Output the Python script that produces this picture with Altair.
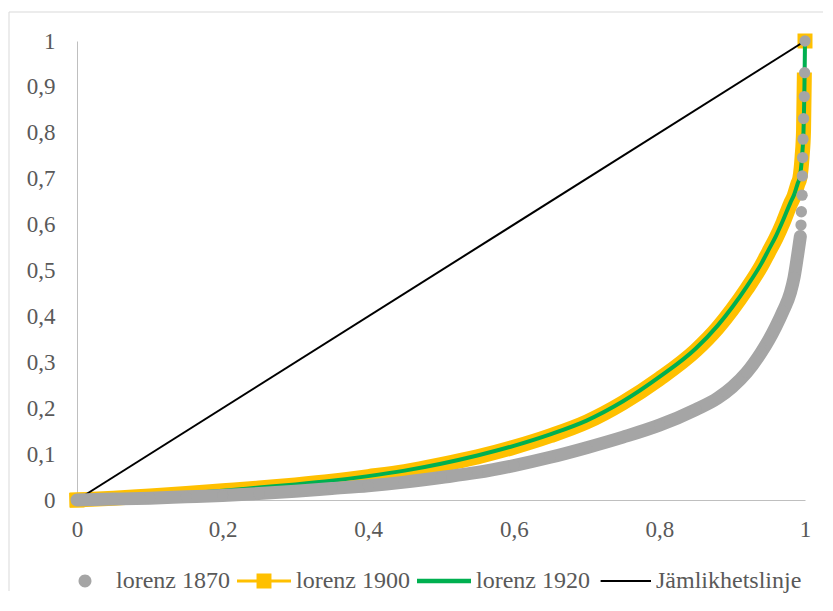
import altair as alt
import pandas as pd

# ---- data ----
series_names = ["lorenz 1870", "lorenz 1900", "lorenz 1920", "Jämlikhetslinje"]
series_colors = ["#A5A5A5", "#FFC000", "#00B050", "#000000"]

x_1870 = [0, 0.05, 0.1, 0.15, 0.2, 0.25, 0.3, 0.35, 0.4, 0.45, 0.5, 0.55, 0.6, 0.65,
          0.7, 0.75, 0.8, 0.85, 0.88, 0.9, 0.92, 0.94, 0.95, 0.96, 0.97, 0.98, 0.985,
          0.99, 0.9936, 0.9945, 0.995, 0.996, 0.9963, 0.9967, 0.9973, 0.998, 0.999,
          0.9995, 1.0]
y_1870 = [0, 0.002, 0.004, 0.007, 0.01, 0.014, 0.019, 0.025, 0.031, 0.039, 0.049, 0.06,
          0.075, 0.093, 0.114, 0.137, 0.163, 0.197, 0.222, 0.246, 0.278, 0.322, 0.348, 0.378,
          0.412, 0.452, 0.485, 0.535, 0.574, 0.599, 0.628, 0.664, 0.706, 0.746, 0.786,
          0.831, 0.879, 0.931, 1.0]

x_1900 = [0, 0.05, 0.1, 0.15, 0.2, 0.25, 0.3, 0.35, 0.4, 0.45, 0.5, 0.55, 0.6, 0.65,
          0.7, 0.75, 0.8, 0.85, 0.88, 0.9, 0.92, 0.94, 0.95, 0.96, 0.97, 0.98, 0.985,
          0.99, 0.993, 0.996, 0.998, 0.999, 1.0]
y_1900 = [0, 0.004, 0.009, 0.014, 0.02, 0.026, 0.033, 0.041, 0.051, 0.062, 0.077, 0.094,
          0.115, 0.14, 0.17, 0.212, 0.264, 0.326, 0.375, 0.415, 0.46, 0.51, 0.54, 0.57,
          0.605, 0.645, 0.662, 0.688, 0.702, 0.748, 0.805, 0.915, 1.0]

x_1920 = [0, 0.05, 0.1, 0.15, 0.2, 0.25, 0.3, 0.35, 0.4, 0.45, 0.5, 0.55, 0.6, 0.65,
          0.7, 0.75, 0.8, 0.85, 0.88, 0.9, 0.92, 0.94, 0.95, 0.96, 0.97, 0.98, 0.985,
          0.99, 0.993, 0.996, 0.998, 0.9995, 1.0]
y_1920 = [0, 0.004, 0.009, 0.014, 0.02, 0.027, 0.034, 0.042, 0.052, 0.064, 0.079, 0.097,
          0.118, 0.143, 0.173, 0.215, 0.268, 0.33, 0.38, 0.42, 0.465, 0.515, 0.545, 0.575,
          0.61, 0.648, 0.665, 0.69, 0.704, 0.75, 0.806, 0.93, 1.0]

x_eq = [0, 1]
y_eq = [0, 1]

x_ticks = [0, 0.2, 0.4, 0.6, 0.8, 1]
y_ticks = [0, 0.1, 0.2, 0.3, 0.4, 0.5, 0.6, 0.7, 0.8, 0.9, 1]

# legend symbol paths (unit = symbol half-size)
legend_shapes = [
    "M1.39,0 A0.72,0.72 0 1,0 2.83,0 A0.72,0.72 0 1,0 1.39,0 Z",
    "M-1,-0.17 L1.17,-0.17 L1.17,-0.83 L2.83,-0.83 L2.83,-0.17 L5,-0.17 L5,0.17 "
    "L2.83,0.17 L2.83,0.83 L1.17,0.83 L1.17,0.17 L-1,0.17 Z",
    "M-1,-0.25 L5,-0.25 L5,0.25 L-1,0.25 Z",
    "M-0.6,-0.11 L5,-0.11 L5,0.11 L-0.6,0.11 Z",
]

FONT = "Liberation Serif, Times New Roman, DejaVu Serif, serif"
TXT = "#595959"

df70 = pd.DataFrame({"x": x_1870, "y": y_1870})
df00 = pd.DataFrame({"x": x_1900, "y": y_1900})
df20 = pd.DataFrame({"x": x_1920, "y": y_1920})
dfeq = pd.DataFrame({"x": x_eq, "y": y_eq})
dflg = pd.DataFrame({"series": series_names, "x": [None] * 4, "y": [None] * 4})
dfone = pd.DataFrame({"a": [0]})

label_expr = "replace(format(datum.value, '.1~f'), '.', ',')"

x_enc = alt.X("x:Q", scale=alt.Scale(domain=[0, 1], nice=False),
              axis=alt.Axis(values=x_ticks, title=None, grid=False, ticks=False, tickSize=0,
                            domainColor="#BFBFBF", domainWidth=1, labelExpr=label_expr,
                            labelFont=FONT, labelFontSize=23, labelColor=TXT,
                            labelPadding=18, labelFlush=False, labelOverlap=False))
y_enc = alt.Y("y:Q", scale=alt.Scale(domain=[0, 1], nice=False),
              axis=alt.Axis(values=y_ticks, title=None, grid=False, ticks=False, tickSize=0,
                            domainColor="#BFBFBF", domainWidth=1, labelExpr=label_expr,
                            labelFont=FONT, labelFontSize=23, labelColor=TXT,
                            labelPadding=22, labelFlush=False, labelOverlap=False))

legend = alt.Legend(title=None, orient="none", legendX=-23, legendY=528,
                    direction="horizontal", symbolSize=324, symbolStrokeWidth=0,
                    symbolOpacity=1, labelOffset=38, columnPadding=4, padding=0,
                    labelFont=FONT, labelFontSize=24, labelColor=TXT, labelLimit=300)

frame_top = alt.Chart(dfone).mark_rule(color="#D9D9D9", strokeWidth=1).encode(
    x=alt.value(-68), x2=alt.value(746), y=alt.value(-29))
frame_left = alt.Chart(dfone).mark_rule(color="#D9D9D9", strokeWidth=1).encode(
    x=alt.value(-68), y=alt.value(-29), y2=alt.value(550))

orange_thin = alt.Chart(df00).mark_line(color=series_colors[1], strokeWidth=3,
                                        interpolate="monotone").encode(x=x_enc, y=y_enc)
orange_band = alt.Chart(df00).transform_filter("datum.y <= 0.92").mark_line(
    color=series_colors[1], strokeWidth=15, strokeCap="square", strokeJoin="round",
    interpolate="monotone").encode(x=x_enc, y=y_enc)
orange_sq = alt.Chart(df00).transform_filter("datum.x == 0 || datum.x == 1").mark_square(
    color=series_colors[1], size=225, filled=True, opacity=1).encode(x=x_enc, y=y_enc)
green = alt.Chart(df20).mark_line(color=series_colors[2], strokeWidth=4, strokeJoin="round",
                                  interpolate="monotone").encode(x=x_enc, y=y_enc)
black = alt.Chart(dfeq).mark_line(color=series_colors[3], strokeWidth=2).encode(x=x_enc, y=y_enc)
gray_band = alt.Chart(df70).transform_filter("datum.y <= 0.575").mark_line(
    color=series_colors[0], strokeWidth=13, strokeCap="round", strokeJoin="round",
    interpolate="monotone").encode(x=x_enc, y=y_enc)
gray_pts = alt.Chart(df70).mark_point(color=series_colors[0], shape="circle", size=127,
                                      filled=True, opacity=1).encode(x=x_enc, y=y_enc)
legend_layer = alt.Chart(dflg).mark_point(filled=True, opacity=1).encode(
    x=x_enc, y=y_enc,
    color=alt.Color("series:N", scale=alt.Scale(domain=series_names, range=series_colors), legend=legend),
    shape=alt.Shape("series:N", scale=alt.Scale(domain=series_names, range=legend_shapes), legend=legend),
)

chart = alt.layer(
    frame_top, frame_left, orange_thin, orange_band, orange_sq, green, black,
    gray_band, gray_pts, legend_layer
).properties(
    width=728, height=459,
    padding={"top": 3, "left": 0, "right": 0, "bottom": 0},
).configure(font=FONT).configure_view(strokeWidth=0)

chart.save("out.html", embed_options={"renderer": "svg", "actions": False})
